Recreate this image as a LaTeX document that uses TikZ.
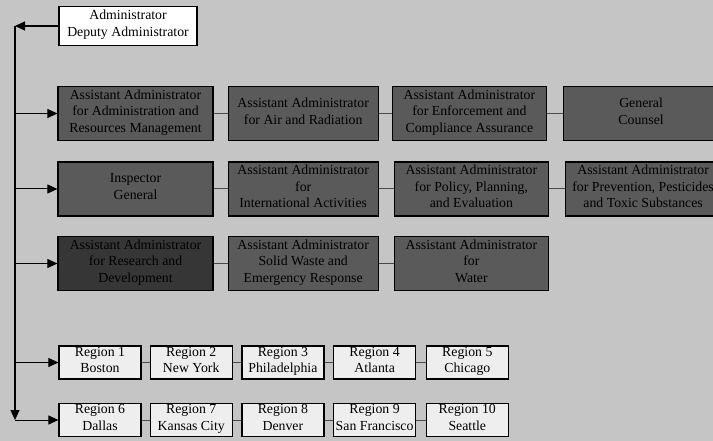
\documentclass[tikz,border=0pt]{standalone}
\usepackage{fontspec}
\setmainfont{Liberation Serif}
\usetikzlibrary{arrows.meta, positioning}

\definecolor{bggray}{HTML}{C5C5C5}
\definecolor{boxgray}{HTML}{5A5A5A}
\definecolor{darkbox}{HTML}{363636}
\definecolor{regiongray}{HTML}{EEEEEE}
\definecolor{linkgray}{HTML}{4A4A4A}

\begin{document}
\begin{tikzpicture}[
    x=1pt, y=-1pt,
    >={Triangle[length=10pt,width=9pt]},
    font=\fontsize{13.8}{16.7}\selectfont,
    every node/.style={execute at begin node=\strut, execute at end node=\strut},
    block/.style={draw, line width=1.2pt, fill=boxgray, text=black, minimum width=150pt, minimum height=54pt, inner sep=0pt, align=center},
    region/.style={draw, line width=1.2pt, fill=regiongray, minimum width=82pt, minimum height=33pt, inner sep=0pt, align=center},
    link/.style={draw=linkgray, line width=1pt}
]

\fill[bggray] (0,0) rectangle (713,441);
\useasboundingbox (0,0) rectangle (713,441);

\node (Admin) at (128,26) [draw, line width=1.2pt, fill=white, minimum width=138pt, minimum height=39pt, inner sep=0pt, align=center] {Administrator\\Deputy Administrator};

\node (A1) at (135.5,113.5) [block, minimum width=155pt] {Assistant Administrator\\for Administration and\\Resources Management};
\node (A2) [right=14pt of A1, block] {Assistant Administrator\\for Air and Radiation};
\node (A3) [right=13pt of A2, block, minimum width=154pt] {Assistant Administrator\\for Enforcement and\\Compliance Assurance};
\node (A4) [right=16pt of A3, block, minimum width=155pt] {General\\Counsel};

\node (B1) at (135.5,189) [block, minimum width=155pt] {Inspector\\General};
\node (B2) [right=14pt of B1, block] {Assistant Administrator\\for\\International Activities};
\node (B3) [right=15pt of B2, block, minimum width=154pt] {Assistant Administrator\\for Policy, Planning,\\and Evaluation};
\node (B4) [right=16pt of B3, block, minimum width=155pt] {Assistant Administrator\\for Prevention, Pesticides\\and Toxic Substances};

\node (C1) at (135.5,263.5) [block, minimum width=155pt, fill=darkbox] {Assistant Administrator\\for Research and\\Development};
\node (C2) [right=14pt of C1, block] {Assistant Administrator\\Solid Waste and\\Emergency Response};
\node (C3) [right=15pt of C2, block, minimum width=154pt] {Assistant Administrator\\for\\Water};

\node (R1) at (100,362.5) [region] {Region 1\\Boston};
\node (R2) [right=8pt of R1, region] {Region 2\\New York};
\node (R3) [right=8.5pt of R2, region] {Region 3\\Philadelphia};
\node (R4) [right=8.5pt of R3, region] {Region 4\\Atlanta};
\node (R5) [right=9.5pt of R4, region] {Region 5\\Chicago};

\node (R6) at (100,420) [region] {Region 6\\Dallas};
\node (R7) [right=8pt of R6, region] {Region 7\\Kansas City};
\node (R8) [right=8.5pt of R7, region] {Region 8\\Denver};
\node (R9) [right=8.5pt of R8, region] {Region 9\\San Francisco};
\node (R10) [right=9.5pt of R9, region] {Region 10\\Seattle};

% trunk on the left
\coordinate (Trunk) at (15,0);
\draw[->, line width=1.2pt] (Admin.west) -- (Admin.west -| Trunk);
\draw[->, line width=1.2pt] (Admin.west -| Trunk) -- (R6.west -| Trunk);

\draw[->, line width=1pt] (A1.west -| Trunk) -- (A1.west);
\draw[->, line width=1pt] (B1.west -| Trunk) -- (B1.west);
\draw[->, line width=1pt] (C1.west -| Trunk) -- (C1.west);
\draw[->, line width=1pt] (R1.west -| Trunk) -- (R1.west);
\draw[->, line width=1pt] (R6.west -| Trunk) -- (R6.west);

% links inside the rows
\draw[link] (A1) -- (A2);
\draw[link] (A2) -- (A3);
\draw[link] (A3) -- (A4);
\draw[link] (B1) -- (B2);
\draw[link] (B2) -- (B3);
\draw[link] (B3) -- (B4);
\draw[link] (C1) -- (C2);
\draw[link] (C2) -- (C3);
\draw[link] (R1) -- (R2);
\draw[link] (R2) -- (R3);
\draw[link] (R3) -- (R4);
\draw[link] (R4) -- (R5);
\draw[link] (R6) -- (R7);
\draw[link] (R7) -- (R8);
\draw[link] (R8) -- (R9);
\draw[link] (R9) -- (R10);

\end{tikzpicture}
\end{document}
